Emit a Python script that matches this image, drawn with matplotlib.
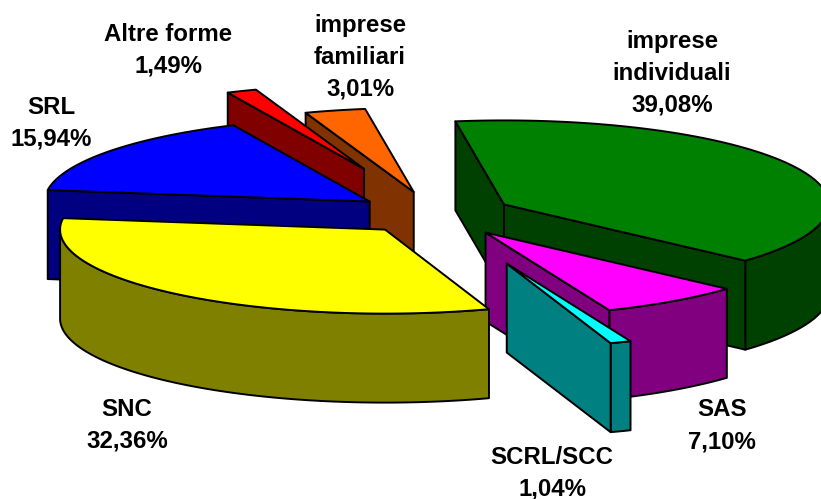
import numpy as np
import matplotlib
matplotlib.use("Agg")
import matplotlib.pyplot as plt
from matplotlib.patches import Polygon

plt.rcParams['font.family'] = ['Liberation Sans', 'DejaVu Sans']

# shares going clockwise, starting from the green slice
names = ['imprese\nindividuali', 'SAS', 'SCRL/SCC', 'SNC', 'SRL', 'Altre forme', 'imprese\nfamiliari']
shares = [39.08, 7.10, 1.04, 32.36, 15.94, 1.49, 3.01]
shown = ['39,08%', '7,10%', '1,04%', '32,36%', '15,94%', '1,49%', '3,01%']
top_colors = ['#008000', '#FF00FF', '#00FFFF', '#FFFF00', '#0000FF', '#FF0000', '#FF6600']
side_colors = ['#004000', '#800080', '#008080', '#808000', '#000080', '#800000', '#803300']
explode = [0.241, 0.27, 0.63, 0.241, 0.25, 0.58, 0.27]

# label centres in pixels
label_x = [672, 722, 552, 127, 51, 168, 360]
label_y = [73, 426, 473, 425, 123, 50, 57]

# painter's order, back slices first
draw_order = [0, 1, 2, 6, 5, 4, 3]

start_angle = -8.6
cx, cy = 435, 214
rx, ry = 325, 84
depth = 89


def rim(center, a, b):
    t = np.radians(np.linspace(a, b, max(int(abs(b - a)) * 2, 2)))
    return np.column_stack([center[0] + rx * np.sin(t), center[1] - ry * np.cos(t)])


def drop(pts):
    return pts[::-1] + [0, depth]


fig = plt.figure(figsize=(8.21, 4.99), dpi=100)
ax = fig.add_axes([0, 0, 1, 1])
ax.set_xlim(0, 821)
ax.set_ylim(499, 0)
ax.axis('off')

edges = start_angle + np.concatenate([[0], np.cumsum(shares)]) * 3.6 / (sum(shares) / 100)

for i in draw_order:
    a, b = edges[i], edges[i + 1]
    mid = np.radians((a + b) / 2)
    c = np.array([cx + explode[i] * rx * np.sin(mid), cy - explode[i] * ry * np.cos(mid)])
    style = dict(edgecolor='black', linewidth=1.4, joinstyle='round')

    # outer wall, only the front half of the ellipse shows
    lo, hi = max(a, 90), min(b, 270)
    if hi > lo:
        wall = rim(c, lo, hi)
        ax.add_patch(Polygon(np.vstack([wall, drop(wall)]), facecolor=side_colors[i], **style))

    # cut faces that look towards the viewer
    if np.sin(np.radians(a)) < 0:
        e = np.vstack([c, rim(c, a, a + 0.01)[0]])
        ax.add_patch(Polygon(np.vstack([e, drop(e)]), facecolor=side_colors[i], **style))
    if np.sin(np.radians(b)) > 0:
        e = np.vstack([c, rim(c, b, b + 0.01)[0]])
        ax.add_patch(Polygon(np.vstack([e, drop(e)]), facecolor=side_colors[i], **style))

    ax.add_patch(Polygon(np.vstack([c, rim(c, a, b)]), facecolor=top_colors[i], **style))

for i in range(len(names)):
    ax.text(label_x[i], label_y[i], names[i] + '\n' + shown[i], ha='center', va='center',
            fontsize=17.3, fontweight='bold', color='black', linespacing=1.5)

fig.savefig('out.png', dpi=100)
